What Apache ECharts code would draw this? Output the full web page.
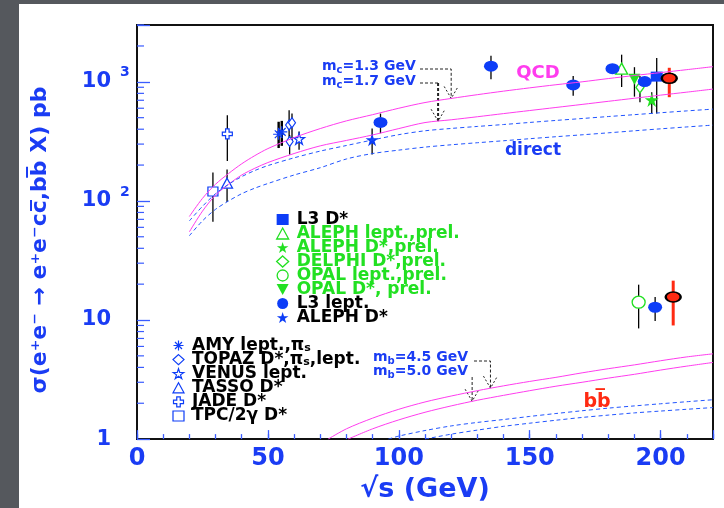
<!DOCTYPE html>
<html><head><meta charset="utf-8">
<script src="https://cdn.jsdelivr.net/npm/echarts@6/dist/echarts.min.js"></script>
<style>html,body{margin:0;padding:0;background:#55585d;}#c{width:724px;height:508px;}</style>
</head><body><div id="c"></div>
<script>
// ---------------- data ----------------
// theory curves (sqrt(s) in GeV, sigma in pb)
const curveXc = [20,25,30,35,40,45,50,60,70,80,90,100,110,120,130,140,150,160,170,180,190,200,210,220];
const qcdMc13 = [74,105,138,170,205,240,275,340,405,470,530,600,670,725,780,835,890,945,1000,1065,1130,1195,1265,1340];
const qcdMc17 = [55,82,112,138,165,188,210,250,290,322,358,405,455,480,509,541,574,609,646,686,728,773,819,869];
const dirMc13 = [68,90,115,138,160,180,198,230,262,292,325,360,388,406,422,438,456,474,492,511,530,550,570,590];
const dirMc17 = [51,68,85,100,115,128,140,165,190,225,250,267,283,296,308,320,333,346,359,373,388,403,418,433];
const bbX45 = [73,80,90,100,110,120,130,140,150,160,170,180,190,200,210,220];
const bbMb45 = [1.0,1.22,1.5,1.78,2.05,2.3,2.55,2.8,3.05,3.3,3.6,3.9,4.2,4.55,4.9,5.2];
const bbX50 = [80.6,90,100,110,120,130,140,150,160,170,180,190,200,210,220];
const bbMb50 = [1.0,1.22,1.45,1.68,1.9,2.12,2.33,2.55,2.78,3.0,3.25,3.5,3.8,4.1,4.4];
const bbDirX45 = [96,100,110,120,130,140,150,160,170,180,190,200,210,220];
const bbDirMb45 = [1.0,1.06,1.18,1.29,1.38,1.46,1.55,1.64,1.73,1.82,1.9,1.98,2.06,2.14];
const bbDirX50 = [110,120,130,140,150,160,170,180,190,200,210,220];
const bbDirMb50 = [1.0,1.1,1.19,1.28,1.36,1.44,1.52,1.59,1.66,1.72,1.78,1.84];

// measurements: [sqrt(s), sigma, lower, upper]
const L3_Dstar = [[198.5,1106,541,1588]];
const ALEPH_lept_prel = [[185.1,1290,905,1690]];
const ALEPH_Dstar_prel = [[196.6,705,541,817]];
const DELPHI_Dstar_prel = [[192.1,898,675,1119]];
const OPAL_lept_prel = [[191.6,14.1,8.5,19.8]];
const OPAL_Dstar_prel = [[190.0,1050,751,1327]];
const L3_lept = [[93.0,456,370,541],[135.2,1352,1052,1656],[166.6,942,765,1119],[181.6,1288,1200,1390],[193.9,1005,930,1090],[197.9,12.8,9.8,15.6]];
const ALEPH_Dstar = [[89.8,326,245,406]];
const AMY = [[54.1,363,278,462],[55.3,380,290,470]];
const TOPAZ = [[58.1,433,336,576],[59.2,453,316,541],[58.3,316,245,358]];
const VENUS = [[61.9,332,269,382]];
const TASSO = [[34.4,141,98,184]];
const JADE = [[34.5,365,216,524]];
const TPC = [[29.0,120,67,173]];
const L3_new = [[203.3,1071,743,1312],[204.8,15.6,9.0,21.4]];

// axis ticks / labels
const yTickValues = [1,10,100,1000];
const yTickMain = ['1','10','10','10'];
const yTickSup = ['','','2','3'];
const yMinorTicks = [2,3,4,5,6,7,8,9,20,30,40,50,60,70,80,90,200,300,400,500,600,700,800,900,2000,3000];

// annotation arrow tips (data coords)
const tipMc13 = [120,725], tipMc17 = [115,467], tipMb45 = [135,2.68], tipMb50 = [128,2.08];

// ---------------- styles ----------------
const FONT = '"DejaVu Sans", "Liberation Sans", sans-serif';
const BLUE_TXT = '#1a3cf4';
const BLUE = '#0d3df7';
const GREEN = '#22e022';
const RED = '#ff2a12';
const MAG = '#ff3cee';
const DBLUE = '#2255ff';
const SYM = {
  rect: 'rect',
  tri: 'triangle',
  star: 'path://M0,-10L2.25,-3.09L9.51,-3.09L3.63,1.18L5.88,8.09L0,3.82L-5.88,8.09L-3.63,1.18L-9.51,-3.09L-2.25,-3.09Z',
  diamond: 'diamond',
  ellipse: 'path://M-10,0A10,10 0 1,0 10,0A10,10 0 1,0 -10,0Z',
  down: 'path://M-10,-9L10,-9L0,9Z',
  aster: 'path://M0,-10L0,10M-10,0L10,0M-7,-7L7,7M-7,7L7,-7',
  cross: 'path://M-3.5,-10L3.5,-10L3.5,-3.5L10,-3.5L10,3.5L3.5,3.5L3.5,10L-3.5,10L-3.5,3.5L-10,3.5L-10,-3.5L-3.5,-3.5Z'
};

function pairs(xs, ys){ return xs.map((x,i)=>[x, ys[i]]); }
function curve(name, xs, ys, color, dashed){
  return {name, type:'line', data:pairs(xs,ys), symbol:'none', smooth:0.3, silent:true,
    lineStyle:{color, width:1, type: dashed ? [4,3] : 'solid'}};
}
function errBars(name, data, color, width){
  return {name, type:'custom', silent:true, data:data.map(d=>[d[0], d[1], d[2], d[3]]),
    renderItem:(params, api)=>{
      const a = api.coord([api.value(0), api.value(2)]);
      const b = api.coord([api.value(0), api.value(3)]);
      return {type:'line', shape:{x1:a[0],y1:a[1],x2:b[0],y2:b[1]}, style:{stroke:color, lineWidth:width}};
    }};
}
function marks(name, data, symbol, size, fill, border, bw){
  return {name, type:'scatter', data:data.map(d=>[d[0], d[1]]), symbol, symbolSize:size, silent:true,
    itemStyle:{color:fill, borderColor:border || fill, borderWidth: bw || 0, opacity:1}};
}
const expts = [
  ['L3 D*', L3_Dstar, SYM.rect, [12,10], BLUE, null, 0],
  ['ALEPH lept.,prel.', ALEPH_lept_prel, SYM.tri, [12,11], '#fff', GREEN, 1.3],
  ['ALEPH D*,prel.', ALEPH_Dstar_prel, SYM.star, 14, GREEN, null, 0],
  ['DELPHI D*,prel.', DELPHI_Dstar_prel, SYM.diamond, [8,11], '#fff', GREEN, 1.3],
  ['OPAL lept.,prel.', OPAL_lept_prel, SYM.ellipse, [13,12], '#fff', GREEN, 1.3],
  ['OPAL D*, prel.', OPAL_Dstar_prel, SYM.down, [12,11], GREEN, null, 0],
  ['L3 lept.', L3_lept, SYM.ellipse, [14,11], BLUE, null, 0],
  ['ALEPH D*', ALEPH_Dstar, SYM.star, 13, BLUE, null, 0],
  ['AMY lept.,π_s', AMY, SYM.aster, 11, 'none', BLUE, 1.2],
  ['TOPAZ D*,π_s,lept.', TOPAZ, SYM.diamond, [7,10], '#fff', BLUE, 1.2],
  ['VENUS lept.', VENUS, SYM.star, 11, '#fff', BLUE, 1.2],
  ['TASSO D*', TASSO, SYM.tri, [11,10], '#fff', BLUE, 1.2],
  ['JADE D*', JADE, SYM.cross, 10, '#fff', BLUE, 1.2],
  ['TPC/2γ D*', TPC, SYM.rect, [10,9], '#fff', BLUE, 1.2]
];

const series = [
  curve('QCD mc=1.3', curveXc, qcdMc13, MAG, false),
  curve('QCD mc=1.7', curveXc, qcdMc17, MAG, false),
  curve('direct mc=1.3', curveXc, dirMc13, DBLUE, true),
  curve('direct mc=1.7', curveXc, dirMc17, DBLUE, true),
  curve('bb mb=4.5', bbX45, bbMb45, MAG, false),
  curve('bb mb=5.0', bbX50, bbMb50, MAG, false),
  curve('bb direct mb=4.5', bbDirX45, bbDirMb45, DBLUE, true),
  curve('bb direct mb=5.0', bbDirX50, bbDirMb50, DBLUE, true),
  {name:'yminor', type:'custom', silent:true, data:yMinorTicks.map(v=>[0,v]), clip:false,
    renderItem:(params, api)=>{
      const p = api.coord([0, api.value(1)]);
      return {type:'line', shape:{x1:p[0],y1:p[1],x2:p[0]+7,y2:p[1]}, style:{stroke:'#3a5cff', lineWidth:1.2}};
    }}
];
expts.forEach(e=>{
  if (e[0].startsWith('AMY')) series.push(errBars('err '+e[0], e[1], '#000', 2.4));
  else series.push(errBars('err '+e[0], e[1], '#000', 1.3));
});
series.push(errBars('err new', L3_new, RED, 3));
expts.forEach(e=>series.push(marks(e[0], e[1], e[2], e[3], e[4], e[5], e[6])));
series.push(marks('L3 new', L3_new, SYM.ellipse, [15,10], RED, '#000', 2));

function legendItem(e, color){
  return {name:e[0], icon:e[2],
    itemStyle:{color:e[4], borderColor:e[5] || e[4], borderWidth:e[6] || 0},
    textStyle:{color}};
}
const legendTop = expts.slice(0,8).map(e=>legendItem(e, (e[0]==='L3 D*'||e[0]==='L3 lept.'||e[0]==='ALEPH D*') ? '#000' : GREEN));
const legendBottom = expts.slice(8).map(e=>legendItem(e, '#000'));
const legTxt = ()=>({fontFamily:FONT, fontWeight:'bold', fontSize:17, padding:[0,0,0,3],
  rich:{s:{fontFamily:FONT, fontWeight:'bold', fontSize:11, lineHeight:9, verticalAlign:'bottom'}}});

const option = {
  animation:false,
  backgroundColor:'#55585d',
  grid:{left:137, right:11, top:25, bottom:62, show:true, borderColor:'#111', borderWidth:2, backgroundColor:'transparent'},
  xAxis:[
    {type:'value', min:0, max:220, interval:10,
     axisLine:{show:true, lineStyle:{color:'#111', width:2}},
     axisTick:{show:true, inside:true, length:5, lineStyle:{color:'#3a5cff', width:1.3}},
     axisLabel:{formatter:v=> (v%50===0 ? String(v) : ''), color:BLUE_TXT, fontFamily:FONT, fontWeight:'bold', fontSize:24, margin:8, showMinLabel:true},
     splitLine:{show:false},
     name:'√s (GeV)', nameLocation:'middle', nameGap:27,
     nameTextStyle:{color:BLUE_TXT, fontFamily:FONT, fontWeight:'bold', fontSize:27}},
    {type:'value', min:0, max:220, interval:50, position:'bottom',
     axisLine:{show:false}, axisLabel:{show:false}, splitLine:{show:false},
     axisTick:{show:true, inside:true, length:9, lineStyle:{color:'#3a5cff', width:1.3}}}
  ],
  yAxis:{type:'log', logBase:10, min:1, max:3000,
     axisLine:{show:true, lineStyle:{color:'#111', width:2}},
     axisTick:{show:true, inside:true, length:13, lineStyle:{color:'#3a5cff', width:1.3}},
     axisLabel:{show:false}, splitLine:{show:false}},
  legend:[
    {data:legendTop, orient:'vertical', left:271, top:206, itemGap:-3.0, itemWidth:12, itemHeight:11,
     selectedMode:false, textStyle:legTxt()},
    {data:legendBottom, orient:'vertical', left:166, top:332, itemGap:-2.9, itemWidth:11, itemHeight:10,
     selectedMode:false, textStyle:legTxt(),
     formatter:n=>n.replace('π_s','π{s|s}')}
  ],
  series
};

const chart = echarts.init(document.getElementById('c'), null, {renderer:'canvas', width:724, height:508});
chart.setOption(option);

const px = (p)=>chart.convertToPixel({xAxisIndex:0, yAxisIndex:0}, p);
const g = [];
g.push({type:'rect', z:-10, silent:true, shape:{x:19, y:4, width:705, height:504}, style:{fill:'#fff'}});
// y tick labels
yTickValues.forEach((v,i)=>{
  const p = px([0, v]);
  g.push({type:'text', x:111, y:p[1], silent:true, style:{text:yTickMain[i], fill:BLUE_TXT, font:'bold 21px '+FONT, align:'right', verticalAlign:'middle'}});
  if (yTickSup[i]) g.push({type:'text', x:120, y:p[1]-9, silent:true, style:{text:yTickSup[i], fill:BLUE_TXT, font:'bold 14px '+FONT, align:'left', verticalAlign:'middle'}});
});
// y title
g.push({type:'text', x:40, y:240, rotation:Math.PI/2, silent:true,
  style:{text:'σ(e\u207Ae\u207B \u2192 e\u207Ae\u207Bcc\u0305,bb\u0305 X) pb', fill:BLUE_TXT, font:'bold 22px '+FONT, align:'center', verticalAlign:'middle'}});
// annotations
function subText(x, y, main, sub, rest, color){
  return {type:'text', x, y, silent:true, style:{text:'{m|'+main+'}{s|'+sub+'}{m|'+rest+'}', align:'left', verticalAlign:'middle',
    rich:{m:{fill:color, fontFamily:FONT, fontWeight:'bold', fontSize:14, lineHeight:18},
          s:{fill:color, fontFamily:FONT, fontWeight:'bold', fontSize:10, lineHeight:10, verticalAlign:'bottom'}}}};
}
function dashed(points, w, dash){ return {type:'polyline', silent:true, shape:{points}, style:{stroke:'#222', lineWidth:w, lineDash:dash, fill:null}}; }
function head(t){ return dashed([[t[0]-7,t[1]-12],[t[0],t[1]],[t[0]+7,t[1]-12]], 1, [2,2]); }
g.push(subText(322, 66, 'm', 'c', '=1.3 GeV', BLUE_TXT));
g.push(subText(322, 81, 'm', 'c', '=1.7 GeV', BLUE_TXT));
const t1 = px(tipMc13), t2 = px(tipMc17), t3 = px(tipMb45), t4 = px(tipMb50);
g.push(dashed([[420,69],[t1[0],69],[t1[0],t1[1]]], 1, [3,2]));
g.push(head(t1));
g.push(dashed([[420,83],[t2[0],83]], 1, [3,2]));
g.push(dashed([[t2[0],83],[t2[0],t2[1]]], 2, [3,2]));
g.push(head(t2));
g.push(subText(373, 357, 'm', 'b', '=4.5 GeV', BLUE_TXT));
g.push(subText(373, 371, 'm', 'b', '=5.0 GeV', BLUE_TXT));
g.push(dashed([[474,361],[t3[0],361],[t3[0],t3[1]]], 1, [3,2]));
g.push(head(t3));
g.push(dashed([[t4[0],377],[t4[0],t4[1]]], 1, [3,2]));
g.push(head(t4));
g.push({type:'text', x:538, y:73, silent:true, style:{text:'QCD', fill:MAG, font:'bold 18px '+FONT, align:'center', verticalAlign:'middle'}});
g.push({type:'text', x:533, y:151, silent:true, style:{text:'direct', fill:BLUE_TXT, font:'bold 17px '+FONT, align:'center', verticalAlign:'middle'}});
g.push({type:'text', x:597, y:402, silent:true, style:{text:'bb\u0305', fill:RED, font:'bold 19px '+FONT, align:'center', verticalAlign:'middle'}});
chart.setOption({graphic:{elements:g}});
</script></body></html>
